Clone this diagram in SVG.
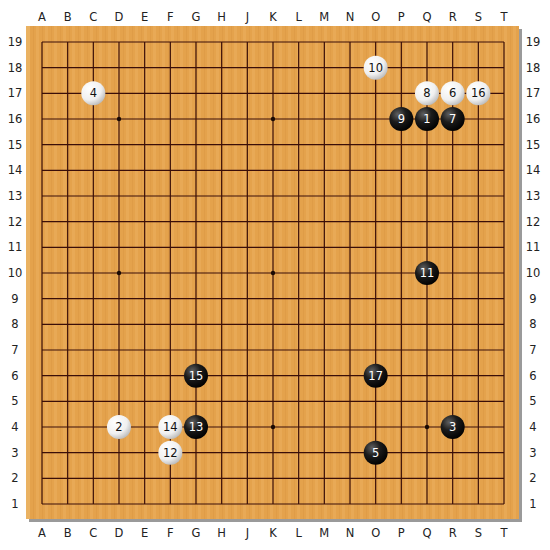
<svg xmlns="http://www.w3.org/2000/svg" width="550" height="550" viewBox="0 0 550 550">
<style>
.coord{font-family:"DejaVu Sans","Liberation Sans",sans-serif;font-size:11.5px;fill:#222;text-anchor:middle;dominant-baseline:central}
.g line{stroke:#3a0e08;stroke-width:1.2}
.b{fill:url(#bg)}
.w{fill:url(#wg)}
.bn{font-family:"DejaVu Sans","Liberation Sans",sans-serif;font-size:11.5px;fill:#fff;text-anchor:middle;dominant-baseline:central}
.wn{font-family:"DejaVu Sans","Liberation Sans",sans-serif;font-size:11.5px;fill:#111;text-anchor:middle;dominant-baseline:central}
</style>
<defs>
<pattern id="wood" width="9" height="10" patternUnits="userSpaceOnUse">
<rect width="9" height="10" fill="#e4a24c"/>
<rect x="0" width="3" height="10" fill="#e8a956"/>
<rect x="6" width="1" height="10" fill="#df9c47"/>
</pattern>
<radialGradient id="bg" cx="0.35" cy="0.3" r="0.75">
<stop offset="0" stop-color="#606060"/>
<stop offset="0.45" stop-color="#1c1c1c"/>
<stop offset="1" stop-color="#000"/>
</radialGradient>
<radialGradient id="wg" cx="0.35" cy="0.3" r="0.8">
<stop offset="0" stop-color="#fff"/>
<stop offset="0.6" stop-color="#f0f0f0"/>
<stop offset="1" stop-color="#b0b0b0"/>
</radialGradient>
</defs>
<rect width="550" height="550" fill="#fff"/>
<rect x="29" y="29" width="493" height="493" fill="#9a9a9a"/>
<rect x="26" y="26" width="493" height="493" fill="url(#wood)"/>
<rect x="26" y="26" width="4" height="493" fill="#eab262"/>
<g class="g">
<line x1="42" y1="42" x2="504" y2="42"/><line x1="42" y1="67.67" x2="504" y2="67.67"/><line x1="42" y1="93.33" x2="504" y2="93.33"/><line x1="42" y1="119" x2="504" y2="119"/><line x1="42" y1="144.67" x2="504" y2="144.67"/><line x1="42" y1="170.33" x2="504" y2="170.33"/><line x1="42" y1="196" x2="504" y2="196"/><line x1="42" y1="221.67" x2="504" y2="221.67"/><line x1="42" y1="247.33" x2="504" y2="247.33"/><line x1="42" y1="273" x2="504" y2="273"/><line x1="42" y1="298.67" x2="504" y2="298.67"/><line x1="42" y1="324.33" x2="504" y2="324.33"/><line x1="42" y1="350" x2="504" y2="350"/><line x1="42" y1="375.67" x2="504" y2="375.67"/><line x1="42" y1="401.33" x2="504" y2="401.33"/><line x1="42" y1="427" x2="504" y2="427"/><line x1="42" y1="452.67" x2="504" y2="452.67"/><line x1="42" y1="478.33" x2="504" y2="478.33"/><line x1="42" y1="504" x2="504" y2="504"/>
<line y1="42" x1="42" y2="504" x2="42"/><line y1="42" x1="67.67" y2="504" x2="67.67"/><line y1="42" x1="93.33" y2="504" x2="93.33"/><line y1="42" x1="119" y2="504" x2="119"/><line y1="42" x1="144.67" y2="504" x2="144.67"/><line y1="42" x1="170.33" y2="504" x2="170.33"/><line y1="42" x1="196" y2="504" x2="196"/><line y1="42" x1="221.67" y2="504" x2="221.67"/><line y1="42" x1="247.33" y2="504" x2="247.33"/><line y1="42" x1="273" y2="504" x2="273"/><line y1="42" x1="298.67" y2="504" x2="298.67"/><line y1="42" x1="324.33" y2="504" x2="324.33"/><line y1="42" x1="350" y2="504" x2="350"/><line y1="42" x1="375.67" y2="504" x2="375.67"/><line y1="42" x1="401.33" y2="504" x2="401.33"/><line y1="42" x1="427" y2="504" x2="427"/><line y1="42" x1="452.67" y2="504" x2="452.67"/><line y1="42" x1="478.33" y2="504" x2="478.33"/><line y1="42" x1="504" y2="504" x2="504"/>
</g>
<g fill="#1a0a04">
<circle cx="119" cy="119" r="2.2"/><circle cx="273" cy="119" r="2.2"/><circle cx="427" cy="119" r="2.2"/>
<circle cx="119" cy="273" r="2.2"/><circle cx="273" cy="273" r="2.2"/><circle cx="427" cy="273" r="2.2"/>
<circle cx="119" cy="427" r="2.2"/><circle cx="273" cy="427" r="2.2"/><circle cx="427" cy="427" r="2.2"/>
</g>
<g class="coord">
<text x="42" y="17">A</text><text x="67.67" y="17">B</text><text x="93.33" y="17">C</text><text x="119" y="17">D</text><text x="144.67" y="17">E</text><text x="170.33" y="17">F</text><text x="196" y="17">G</text><text x="221.67" y="17">H</text><text x="247.33" y="17">J</text><text x="273" y="17">K</text><text x="298.67" y="17">L</text><text x="324.33" y="17">M</text><text x="350" y="17">N</text><text x="375.67" y="17">O</text><text x="401.33" y="17">P</text><text x="427" y="17">Q</text><text x="452.67" y="17">R</text><text x="478.33" y="17">S</text><text x="504" y="17">T</text>
<text x="42" y="533">A</text><text x="67.67" y="533">B</text><text x="93.33" y="533">C</text><text x="119" y="533">D</text><text x="144.67" y="533">E</text><text x="170.33" y="533">F</text><text x="196" y="533">G</text><text x="221.67" y="533">H</text><text x="247.33" y="533">J</text><text x="273" y="533">K</text><text x="298.67" y="533">L</text><text x="324.33" y="533">M</text><text x="350" y="533">N</text><text x="375.67" y="533">O</text><text x="401.33" y="533">P</text><text x="427" y="533">Q</text><text x="452.67" y="533">R</text><text x="478.33" y="533">S</text><text x="504" y="533">T</text>
<text x="15" y="42">19</text><text x="15" y="67.67">18</text><text x="15" y="93.33">17</text><text x="15" y="119">16</text><text x="15" y="144.67">15</text><text x="15" y="170.33">14</text><text x="15" y="196">13</text><text x="15" y="221.67">12</text><text x="15" y="247.33">11</text><text x="15" y="273">10</text><text x="15" y="298.67">9</text><text x="15" y="324.33">8</text><text x="15" y="350">7</text><text x="15" y="375.67">6</text><text x="15" y="401.33">5</text><text x="15" y="427">4</text><text x="15" y="452.67">3</text><text x="15" y="478.33">2</text><text x="15" y="504">1</text>
<text x="533" y="42">19</text><text x="533" y="67.67">18</text><text x="533" y="93.33">17</text><text x="533" y="119">16</text><text x="533" y="144.67">15</text><text x="533" y="170.33">14</text><text x="533" y="196">13</text><text x="533" y="221.67">12</text><text x="533" y="247.33">11</text><text x="533" y="273">10</text><text x="533" y="298.67">9</text><text x="533" y="324.33">8</text><text x="533" y="350">7</text><text x="533" y="375.67">6</text><text x="533" y="401.33">5</text><text x="533" y="427">4</text><text x="533" y="452.67">3</text><text x="533" y="478.33">2</text><text x="533" y="504">1</text>
</g>
<g id="s1"><circle class="b" cx="427" cy="119" r="12"/><text class="bn" x="427" y="119">1</text></g>
<g id="s2"><circle class="w" cx="119" cy="427" r="12"/><text class="wn" x="119" y="427">2</text></g>
<g id="s3"><circle class="b" cx="452.67" cy="427" r="12"/><text class="bn" x="452.67" y="427">3</text></g>
<g id="s4"><circle class="w" cx="93.33" cy="93.33" r="12"/><text class="wn" x="93.33" y="93.33">4</text></g>
<g id="s5"><circle class="b" cx="375.67" cy="452.67" r="12"/><text class="bn" x="375.67" y="452.67">5</text></g>
<g id="s6"><circle class="w" cx="452.67" cy="93.33" r="12"/><text class="wn" x="452.67" y="93.33">6</text></g>
<g id="s7"><circle class="b" cx="452.67" cy="119" r="12"/><text class="bn" x="452.67" y="119">7</text></g>
<g id="s8"><circle class="w" cx="427" cy="93.33" r="12"/><text class="wn" x="427" y="93.33">8</text></g>
<g id="s9"><circle class="b" cx="401.33" cy="119" r="12"/><text class="bn" x="401.33" y="119">9</text></g>
<g id="s10"><circle class="w" cx="375.67" cy="67.67" r="12"/><text class="wn" x="375.67" y="67.67">10</text></g>
<g id="s11"><circle class="b" cx="427" cy="273" r="12"/><text class="bn" x="427" y="273">11</text></g>
<g id="s12"><circle class="w" cx="170.33" cy="452.67" r="12"/><text class="wn" x="170.33" y="452.67">12</text></g>
<g id="s13"><circle class="b" cx="196" cy="427" r="12"/><text class="bn" x="196" y="427">13</text></g>
<g id="s14"><circle class="w" cx="170.33" cy="427" r="12"/><text class="wn" x="170.33" y="427">14</text></g>
<g id="s15"><circle class="b" cx="196" cy="375.67" r="12"/><text class="bn" x="196" y="375.67">15</text></g>
<g id="s16"><circle class="w" cx="478.33" cy="93.33" r="12"/><text class="wn" x="478.33" y="93.33">16</text></g>
<g id="s17"><circle class="b" cx="375.67" cy="375.67" r="12"/><text class="bn" x="375.67" y="375.67">17</text></g>
</svg>
